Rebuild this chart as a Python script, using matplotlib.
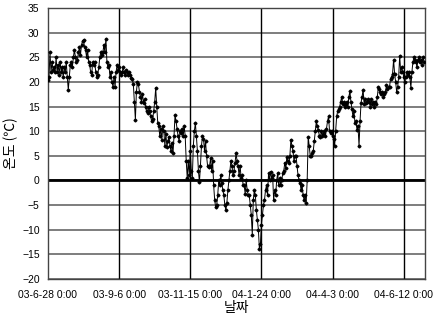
import numpy as np
import pandas as pd
import matplotlib
matplotlib.use("Agg")
import matplotlib.pyplot as plt
import matplotlib.dates as mdates

# 일별 기온 (03-6-28 부터)
start_date = "2003-06-28"
temps = [
    20.3, 21, 26, 22, 24, 22.5, 23, 22, 25, 22,
    23.5, 21.5, 24, 22, 23, 21, 23, 22, 24, 21,
    18.4, 21, 23.5, 24, 23, 25, 26.5, 25, 24, 24.5,
    26, 27, 25.5, 27.5, 28.3, 28.5, 27, 26.5, 25, 26.5,
    24, 23.5, 22, 21.5, 24, 23.5, 24, 22, 21, 21.5,
    23, 25, 26, 25.5, 26, 27.5, 26, 28.8, 24, 23,
    23.5, 21, 22, 20, 19, 21, 19, 22, 23.5, 22.5,
    23, 22, 21.5, 22, 23, 22, 21.5, 22.5, 22, 21.5,
    22, 21.5, 20.8, 20.5, 19.5, 16, 12.3, 18, 20, 19.5,
    18, 17, 16, 17.5, 15.8, 16.5, 15, 14, 13.7, 15,
    14, 13, 12, 12.5, 14, 16, 18.8, 15, 11.7, 11,
    9, 10.5, 8.3, 11, 10, 7, 9.5, 6.8, 8, 8.9,
    7, 6, 7.5, 5.5, 9, 13.3, 12, 10.5, 9, 8,
    10, 9.7, 10.5, 9, 11, 9, 4, 0.5, 4, 1,
    6, 2, 0.5, 7, 10, 11.6, 9, 6, 2, -0.4,
    3, 7, 9, 8.5, 6, 8, 5, 3, 2.7, 3,
    4.5, 2, 4, -1, -4, -5.5, -5, -3, 0, -1,
    1, -0.5, -2, -3, -5, -6, -4.5, -2, 0, 2,
    4, 3, 1, 2, 3.5, 5.5, 4, 3, 1, 3,
    0.5, 1, -1, -1, -2.7, 0, -2, -3, -3, -5,
    -7, -11, -4, -2, -3, -6, -8, -10, -14, -13,
    -9, -7, -5, -4, -2, -1, -3, 1.5, 0, 1.8,
    0.5, 1, -4, -2, -3, 0, 1.5, -1, 0.5, -1,
    0, 1.5, 2, 3.6, 2.5, 4.8, 4, 3.5, 5, 8.3,
    7, 6, 4, 5, 5, 3, 1, 0, -0.5, -2,
    -1, -3, -4, -3, -4.6, 0, 8.9, 7, 5, 5,
    5.5, 6, 8, 10, 12, 11, 10.3, 9, 8.9, 10,
    9, 9.5, 10, 9, 10.5, 12, 13, 10, 9.7, 10,
    9, 8.5, 7, 10, 13, 14, 14.4, 15, 16, 17,
    15.5, 16, 15, 15.5, 16, 15, 17, 18.1, 16, 14.5,
    13, 14, 11.7, 12, 10.3, 11, 7, 12, 15.8, 17,
    18.4, 15.5, 16.5, 15.8, 16, 16.5, 16, 15, 16.5, 15.5,
    16, 15, 16, 15.5, 17, 19, 18.5, 18, 17.5, 18,
    17, 17.5, 18, 19.3, 18.5, 19, 19, 20.6, 21, 21.7,
    24.5, 21.7, 20, 18, 19, 21, 25.3, 22, 23, 22,
    21, 20, 21, 22, 21.5, 22, 21, 18.8, 22, 24,
    25, 24.5, 24, 23, 24.5, 25, 24, 24.5, 23.5, 25, 24,
]
tick_dates = ["2003-06-28", "2003-09-06", "2003-11-15", "2004-01-24", "2004-04-03", "2004-06-12"]
tick_labels = ["03-6-28 0:00", "03-9-6 0:00", "03-11-15 0:00", "04-1-24 0:00", "04-4-3 0:00", "04-6-12 0:00"]
y_ticks = list(range(-20, 36, 5))

dates = pd.date_range(start_date, periods=len(temps), freq="D")

fig = plt.figure(figsize=(4.36, 3.22), dpi=100)
ax = fig.add_axes([0.110, 0.134, 0.865, 0.841])

# 격자
for y in y_ticks:
    ax.axhline(y, color="#5a5a5a", lw=1.1, zorder=1)
for d in tick_dates[1:]:
    ax.axvline(pd.Timestamp(d), color="black", lw=1.0, zorder=1)
ax.axhline(0, color="black", lw=2.0, zorder=2)

ax.plot(dates, temps, color="black", lw=0.7, marker="D", markersize=1.5, zorder=3)

ax.set_ylim(-20, 35)
ax.set_yticks(y_ticks)
ax.set_xlim(pd.Timestamp(tick_dates[0]), pd.Timestamp("2004-07-03"))
ax.set_xticks([pd.Timestamp(d) for d in tick_dates])
ax.set_xticklabels(tick_labels)

for lbl in ax.get_xticklabels() + ax.get_yticklabels():
    lbl.set_fontfamily("Liberation Sans")
    lbl.set_fontsize(7.5)
ax.tick_params(axis="x", length=0, pad=8)
ax.tick_params(axis="y", length=0, pad=6)

for s in ax.spines.values():
    s.set_color("#444444")
    s.set_linewidth(1.0)

ax.set_ylabel("온도 (℃)", family=["Noto Sans CJK KR", "DejaVu Sans"], fontsize=10, labelpad=3)
ax.set_xlabel("날짜", family=["Noto Sans CJK KR", "DejaVu Sans"], fontsize=10, labelpad=1)

fig.savefig("out.png", dpi=100)
